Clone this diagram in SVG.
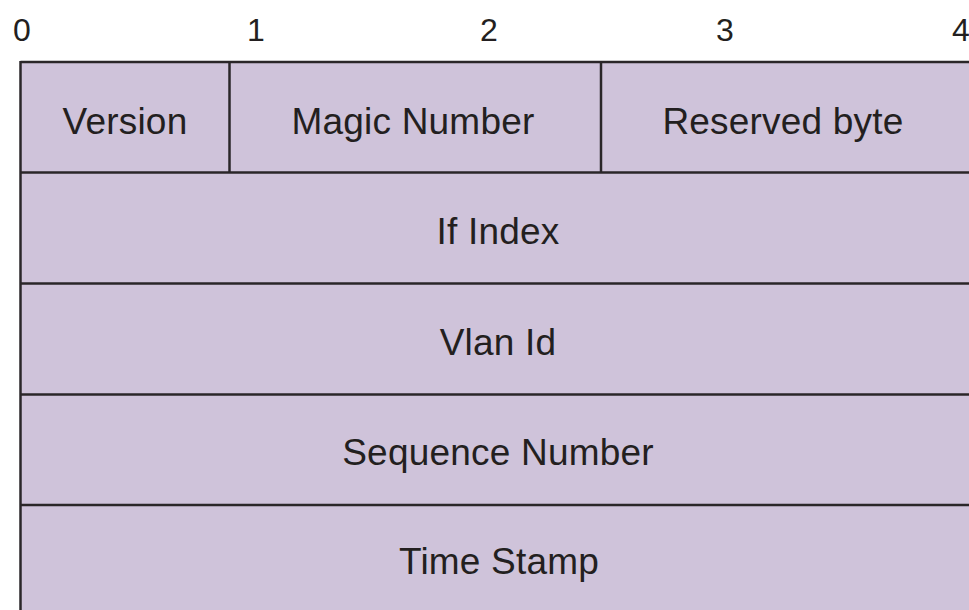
<svg xmlns="http://www.w3.org/2000/svg" width="969" height="610" viewBox="0 0 969 610">
<style>
.cell{fill:#cfc3da;stroke:none}
.ln{stroke:#2a2628;stroke-width:2.5;fill:none}
.t{font-family:"Liberation Sans",Arial,sans-serif;font-size:37px;letter-spacing:0.2px;fill:#231f20;text-anchor:middle}
.n{font-family:"Liberation Sans",Arial,sans-serif;font-size:32px;fill:#231f20;text-anchor:middle}
</style>
<rect width="969" height="610" fill="#ffffff"/>
<g id="scale">
<text class="n" x="22" y="41">0</text>
<text class="n" x="256" y="41">1</text>
<text class="n" x="489" y="41">2</text>
<text class="n" x="725" y="41">3</text>
<text class="n" x="961" y="41">4</text>
</g>
<rect class="cell" x="21" y="62" width="948" height="548"/>
<g id="version"><text class="t" x="125" y="134">Version</text></g>
<g id="magic"><text class="t" x="413" y="134">Magic Number</text></g>
<g id="reserved"><text class="t" x="783" y="134">Reserved byte</text></g>
<g id="ifindex"><text class="t" x="498" y="244">If Index</text></g>
<g id="vlan"><text class="t" x="498" y="355">Vlan Id</text></g>
<g id="seq"><text class="t" x="498" y="465">Sequence Number</text></g>
<g id="time"><text class="t" x="499" y="574">Time Stamp</text></g>
<g id="lines">
<line class="ln" x1="20.5" y1="62" x2="969" y2="62"/>
<line class="ln" x1="20.5" y1="61" x2="20.5" y2="610"/>
<line class="ln" x1="229.5" y1="62" x2="229.5" y2="172"/>
<line class="ln" x1="601" y1="62" x2="601" y2="172"/>
<line class="ln" x1="20.5" y1="172.5" x2="969" y2="172.5"/>
<line class="ln" x1="20.5" y1="283.5" x2="969" y2="283.5"/>
<line class="ln" x1="20.5" y1="394.5" x2="969" y2="394.5"/>
<line class="ln" x1="20.5" y1="505" x2="969" y2="505"/>
</g>
</svg>
